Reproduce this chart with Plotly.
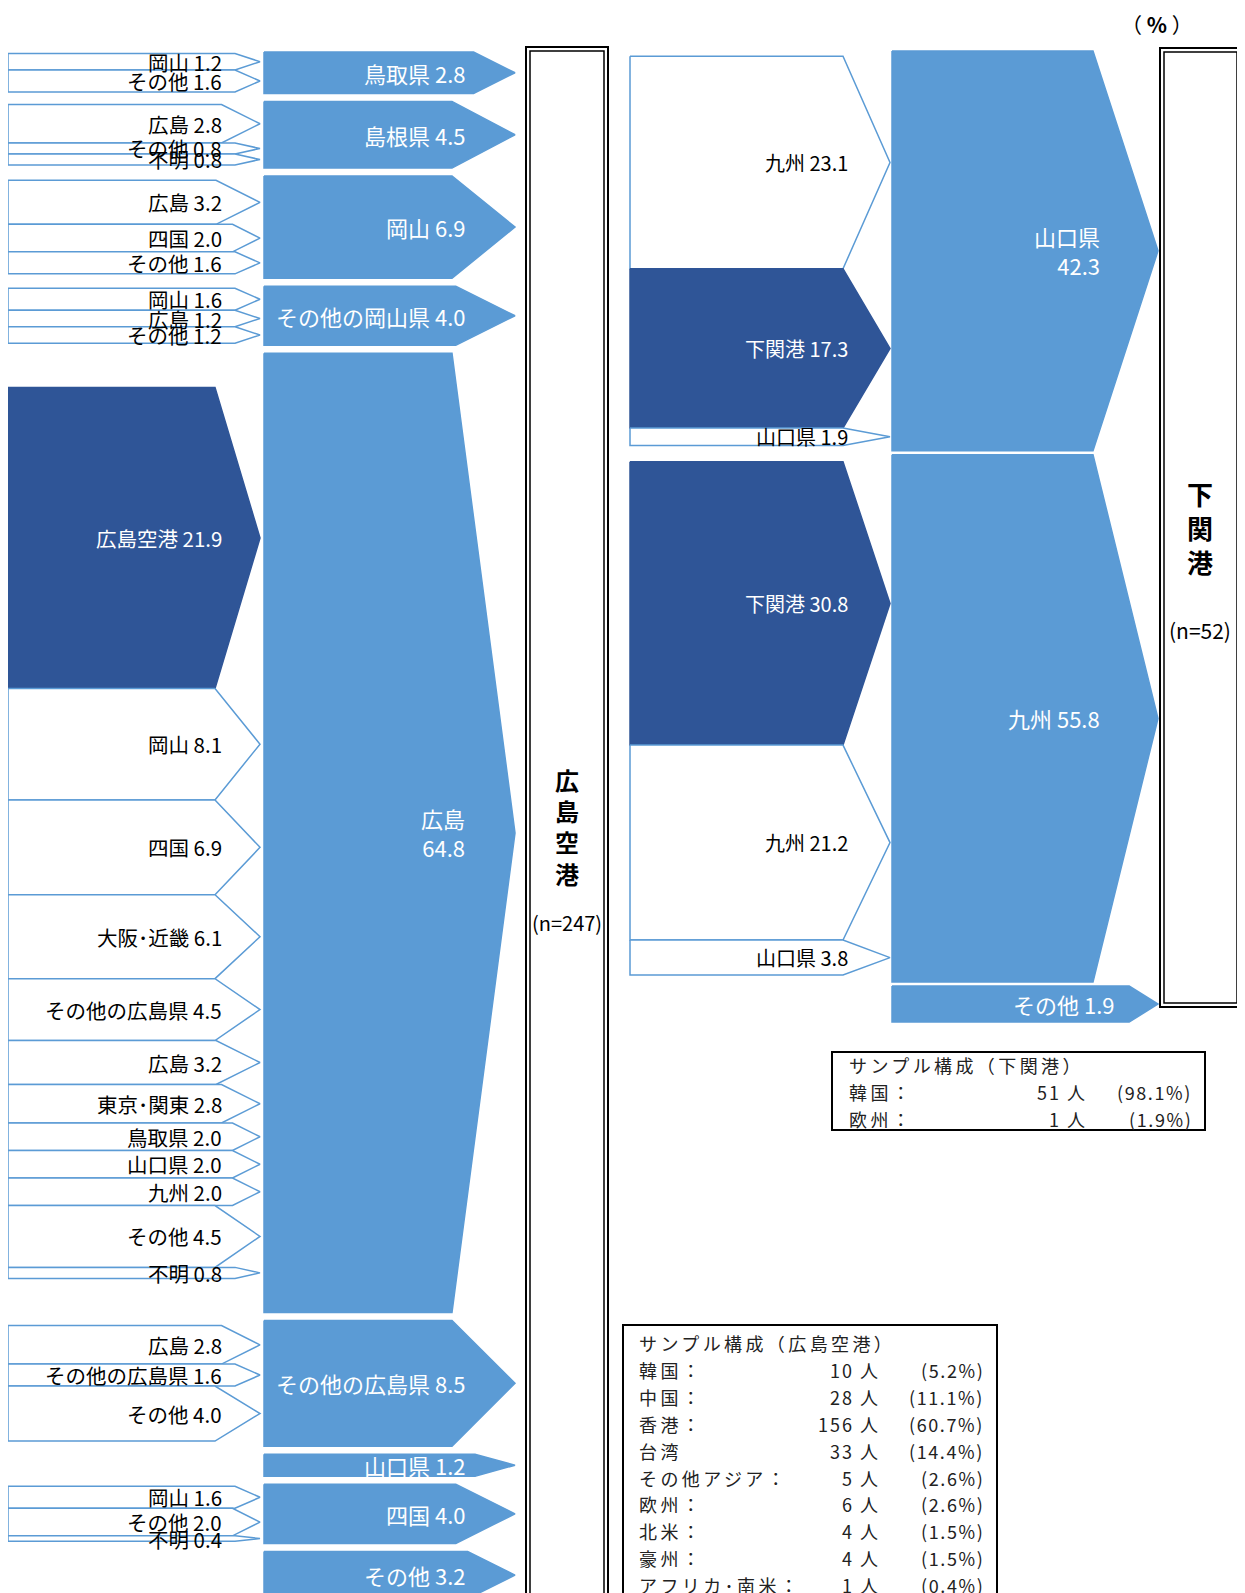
import plotly.graph_objects as go

# 広島空港 (n=247): where visitors go next, and where they were before (%)
hiro_dest = ["鳥取県", "島根県", "岡山", "その他の岡山県", "広島", "その他の広島県", "山口県", "四国", "その他"]
hiro_dest_pct = [2.8, 4.5, 6.9, 4.0, 64.8, 8.5, 1.2, 4.0, 3.2]
hiro_sub = [
    ["岡山", "その他"],
    ["広島", "その他", "不明"],
    ["広島", "四国", "その他"],
    ["岡山", "広島", "その他"],
    ["広島空港", "岡山", "四国", "大阪･近畿", "その他の広島県", "広島", "東京･関東",
     "鳥取県", "山口県", "九州", "その他", "不明"],
    ["広島", "その他の広島県", "その他"],
    [],
    ["岡山", "その他", "不明"],
    [],
]
hiro_sub_pct = [
    [1.2, 1.6],
    [2.8, 0.8, 0.8],
    [3.2, 2.0, 1.6],
    [1.6, 1.2, 1.2],
    [21.9, 8.1, 6.9, 6.1, 4.5, 3.2, 2.8, 2.0, 2.0, 2.0, 4.5, 0.8],
    [2.8, 1.6, 4.0],
    [],
    [1.6, 2.0, 0.4],
    [],
]

# 下関港 (n=52)
shimo_dest = ["山口県", "九州", "その他"]
shimo_dest_pct = [42.3, 55.8, 1.9]
shimo_sub = [["九州", "下関港", "山口県"], ["下関港", "九州", "山口県"], []]
shimo_sub_pct = [[23.1, 17.3, 1.9], [30.8, 21.2, 3.8], []]

# sample composition tables
hiro_nat = ["韓国：", "中国：", "香港：", "台湾", "その他アジア：", "欧州：", "北米：", "豪州：", "アフリカ･南米："]
hiro_n = [10, 28, 156, 33, 5, 6, 4, 4, 1]
hiro_share = [5.2, 11.1, 60.7, 14.4, 2.6, 2.6, 1.5, 1.5, 0.4]
shimo_nat = ["韓国：", "欧州："]
shimo_n = [51, 1]
shimo_share = [98.1, 1.9]

W, H = 1245, 1593
OFF = 8  # default body margin of the html page
FONT = "Noto Sans CJK JP"
BLUE = "#5B9BD5"
DARK = "#2F5597"
PORTS = {"広島空港", "下関港"}
TWO_LINE = {("hm", 4), ("sm", 0)}
LABEL_X = {("sm", 2): 1116}

fig = go.Figure()
ann = []


def arrow(x0, x1, y0, y1, head, fill, line):
    ym = (y0 + y1) / 2
    fig.add_trace(go.Scatter(
        x=[x0, x1 - head, x1, x1 - head, x0, x0],
        y=[y0, y0, ym, y1, y1, y0],
        mode="lines", fill="toself", fillcolor=fill,
        line=dict(color=line, width=1.5), hoverinfo="skip", showlegend=False))


def label(text, x, y, size, color, anchor="right", spacing=0):
    if spacing:
        text = f'<span style="letter-spacing:{spacing}px">{text}</span>'
    ann.append(dict(x=x, y=y, text=text, xanchor=anchor, yanchor="middle", showarrow=False,
                    align=anchor if anchor != "center" else "center",
                    font=dict(family=FONT, size=size, color=color)))


def stack(vals, top, scale, gap, minh):
    out, y = [], top
    for v in vals:
        h = max(v * scale, minh)
        out.append((y, y + h))
        y += h + gap
    return out


def centred(vals, y0, y1, scale):
    y = (y0 + y1) / 2 - sum(vals) * scale / 2
    out = []
    for v in vals:
        out.append((y, y + v * scale))
        y += v * scale
    return out


def flow(key, dests, pcts, subs, sub_pcts, mid, left, top, scale, gap, minh, sub_scale):
    spans = stack(pcts, top, scale, gap, minh)
    for i, (name, p, (y0, y1)) in enumerate(zip(dests, pcts, spans)):
        h = y1 - y0
        arrow(mid["x0"], mid["x1"], y0, y1, mid["head"](h), BLUE, BLUE)
        sep = "<br>" if (key, i) in TWO_LINE else " "
        label(f"{name}{sep}{p:.1f}", LABEL_X.get((key, i), mid["tx"]), (y0 + y1) / 2,
              mid["fs"], "white")
        for sname, sp, (s0, s1) in zip(subs[i], sub_pcts[i], centred(sub_pcts[i], y0, y1, sub_scale)):
            dark = sname in PORTS
            arrow(left["x0"], left["x1"], s0, s1, left["head"](s1 - s0),
                  DARK if dark else "white", DARK if dark else BLUE)
            label(f"{sname} {sp:.1f}", left["tx"], (s0 + s1) / 2, left["fs"],
                  "white" if dark else "black")


hm = dict(x0=264, x1=515, tx=467, fs=22, head=lambda h: min(63, max(40, h)))
hl = dict(x0=8, x1=260, tx=224, fs=20.5, head=lambda h: min(45, max(25, h)))
sm = dict(x0=892, x1=1158, tx=1102, fs=22, head=lambda h: min(65, 0.8 * h))
sl = dict(x0=630, x1=890, tx=850, fs=20, head=lambda h: 47)

flow("hm", hiro_dest, hiro_dest_pct, hiro_sub, hiro_sub_pct, hm, hl,
     top=52, scale=14.8, gap=8, minh=22, sub_scale=13.75)
flow("sm", shimo_dest, shimo_dest_pct, shimo_sub, shimo_sub_pct, sm, sl,
     top=51, scale=9.45, gap=4, minh=36, sub_scale=9.2)

# port boxes with double border
shapes = []
for x0, x1, y0, y1 in [(526, 608, 47, H + 40), (1160, 1241, 48, 1007)]:
    shapes.append(dict(type="rect", x0=x0, x1=x1, y0=y0, y1=y1, line=dict(color="black", width=2)))
    shapes.append(dict(type="rect", x0=x0 + 4, x1=x1 - 4, y0=y0 + 4, y1=y1 - 4,
                       line=dict(color="black", width=1.5)))

ann.append(dict(x=567, y=826, text="<b>広<br>島<br>空<br>港</b>", showarrow=False,
                font=dict(family=FONT, size=24, color="black")))
label("(n=247)", 567, 922, 20, "black", "center")
ann.append(dict(x=1200, y=527, text="<b>下<br>関<br>港</b>", showarrow=False,
                font=dict(family=FONT, size=26, color="black")))
label("(n=52)", 1200, 630, 21, "black", "center")
ann.append(dict(x=1157, y=24, text="（ <b>%</b> ）", showarrow=False, yanchor="middle",
                font=dict(family=FONT, size=21, color="black")))


def table(title, nat, n, share, x0, x1, y0, y1, tx, nx, px, row0, step):
    shapes.append(dict(type="rect", x0=x0, x1=x1, y0=y0, y1=y1, line=dict(color="black", width=2)))
    label(title, tx, row0, 18, "#222", "left", 3.4)
    for k, (a, b, c) in enumerate(zip(nat, n, share)):
        y = row0 + (k + 1) * step
        label(a, tx, y, 18, "#222", "left", 3.4)
        label(f"{b} 人", nx, y, 18, "#222", spacing=2)
        label(f"({c}%)", px, y, 18, "#222", spacing=1.6)


table("サンプル構成（下関港）", shimo_nat, shimo_n, shimo_share,
      832, 1205, 1052, 1130, 847, 1089, 1194, 1065, 27)
table("サンプル構成（広島空港）", hiro_nat, hiro_n, hiro_share,
      623, 997, 1325, H + 40, 637, 882, 986, 1343, 26.9)

fig.update_layout(
    width=W - OFF, height=H - OFF, margin=dict(l=0, r=0, t=0, b=0),
    paper_bgcolor="white", plot_bgcolor="white",
    xaxis=dict(range=[OFF, W], visible=False, fixedrange=True),
    yaxis=dict(range=[H, OFF], visible=False, fixedrange=True),
    shapes=shapes, annotations=ann)
fig.write_html("out.html")
